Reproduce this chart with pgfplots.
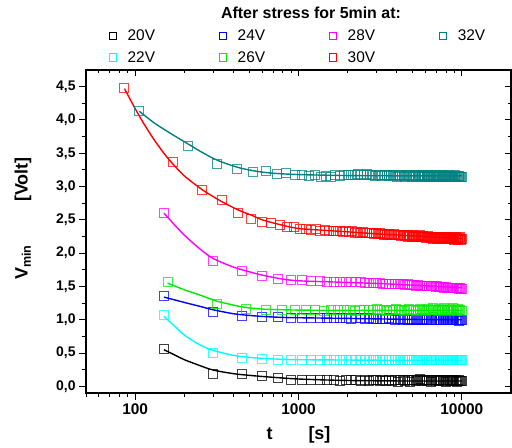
\documentclass[border=0pt]{standalone}
\usepackage{fontspec}
\setmainfont{Liberation Sans}
\usepackage{pgfplots}
\usepackage{pgfplotstable}
\pgfplotsset{compat=1.18}

\definecolor{c20}{RGB}{0,0,0}
\definecolor{c22}{RGB}{0,255,255}
\definecolor{c24}{RGB}{0,0,255}
\definecolor{c26}{RGB}{0,235,0}
\definecolor{c28}{RGB}{255,0,255}
\definecolor{c30}{RGB}{255,0,0}
\definecolor{c32}{RGB}{0,128,128}

% 20V, 22V, 24V, 28V: one reading every 150 s
\pgfplotstableread{
t v20 v22 v24 v28
150 0.56 1.07 1.36 2.61
300 0.19 0.50 1.12 1.89
450 0.18 0.43 1.06 1.74
600 0.15 0.41 1.04 1.66
750 0.12 0.40 1.04 1.62
900 0.10 0.40 1.03 1.60
1050 0.10 0.40 1.03 1.59
1200 0.09 0.40 1.02 1.58
1350 0.09 0.39 1.02 1.58
1500 0.10 0.40 1.02 1.57
1650 0.09 0.40 1.03 1.57
1800 0.08 0.40 1.02 1.57
1950 0.09 0.39 1.02 1.56
2100 0.09 0.40 1.01 1.56
2250 0.10 0.40 1.02 1.56
2400 0.08 0.39 1.02 1.56
2550 0.09 0.40 1.01 1.55
2700 0.08 0.40 1.02 1.55
2850 0.09 0.39 1.01 1.55
3000 0.09 0.40 1.01 1.55
3150 0.08 0.39 1.01 1.55
3300 0.09 0.40 1.01 1.54
3450 0.08 0.39 1.01 1.54
3600 0.10 0.40 1.02 1.54
3750 0.08 0.39 1.01 1.54
3900 0.09 0.39 1.00 1.53
4050 0.07 0.40 1.01 1.53
4200 0.09 0.39 1.01 1.53
4350 0.10 0.39 1.00 1.53
4500 0.08 0.40 1.01 1.52
4650 0.09 0.39 1.00 1.53
4800 0.07 0.39 1.01 1.52
4950 0.09 0.40 1.00 1.52
5100 0.10 0.39 1.00 1.52
5250 0.08 0.39 1.01 1.51
5400 0.09 0.40 1.00 1.52
5550 0.11 0.39 1.00 1.51
5700 0.08 0.39 1.00 1.51
5850 0.09 0.40 1.01 1.51
6000 0.10 0.39 1.00 1.50
6150 0.08 0.39 0.99 1.51
6300 0.09 0.39 1.00 1.50
6450 0.07 0.40 1.00 1.50
6600 0.09 0.39 0.99 1.50
6750 0.10 0.39 1.00 1.50
6900 0.08 0.39 0.99 1.49
7050 0.09 0.39 1.00 1.50
7200 0.08 0.40 0.99 1.49
7350 0.10 0.39 1.00 1.49
7500 0.09 0.39 0.99 1.49
7650 0.08 0.39 0.99 1.49
7800 0.09 0.39 1.00 1.48
7950 0.07 0.40 0.99 1.49
8100 0.09 0.39 0.99 1.48
8250 0.10 0.39 1.00 1.48
8400 0.08 0.39 0.99 1.48
8550 0.09 0.39 0.99 1.48
8700 0.08 0.40 0.99 1.47
8850 0.09 0.39 1.00 1.48
9000 0.08 0.39 0.99 1.47
9150 0.09 0.39 0.99 1.47
9300 0.07 0.39 0.99 1.47
9450 0.08 0.40 0.99 1.47
9600 0.09 0.39 0.98 1.46
9750 0.08 0.39 0.99 1.47
9900 0.08 0.39 0.99 1.46
10050 0.08 0.39 0.99 1.46
}\datastep

% 26V: every 158 s
\pgfplotstableread{
t v
158 1.56
316 1.24
474 1.16
632 1.14
790 1.15
948 1.14
1106 1.15
1264 1.14
1422 1.13
1580 1.15
1738 1.14
1896 1.15
2054 1.14
2212 1.13
2370 1.15
2528 1.14
2686 1.15
2844 1.14
3002 1.16
3160 1.14
3318 1.15
3476 1.13
3634 1.15
3792 1.14
3950 1.16
4108 1.14
4266 1.15
4424 1.13
4582 1.15
4740 1.16
4898 1.14
5056 1.15
5214 1.13
5372 1.15
5530 1.16
5688 1.14
5846 1.15
6004 1.13
6162 1.16
6320 1.14
6478 1.15
6636 1.17
6794 1.14
6952 1.15
7110 1.13
7268 1.16
7426 1.14
7584 1.15
7742 1.17
7900 1.14
8058 1.15
8216 1.13
8374 1.16
8532 1.14
8690 1.15
8848 1.17
9006 1.14
9164 1.15
9322 1.13
9480 1.16
9638 1.14
9796 1.15
9954 1.13
}\datagreen

% 30V: every 85 s
\pgfplotstableread{
t v
85 4.48
170 3.37
255 2.95
340 2.80
425 2.60
510 2.51
595 2.47
680 2.45
765 2.42
850 2.40
935 2.39
1020 2.37
1105 2.37
1190 2.35
1275 2.36
1360 2.34
1445 2.35
1530 2.34
1615 2.33
1700 2.34
1785 2.33
1870 2.32
1955 2.33
2040 2.32
2125 2.33
2210 2.31
2295 2.32
2380 2.31
2465 2.32
2550 2.30
2635 2.31
2720 2.30
2805 2.31
2890 2.29
2975 2.30
3060 2.29
3145 2.30
3230 2.29
3315 2.28
3400 2.29
3485 2.28
3570 2.29
3655 2.27
3740 2.28
3825 2.29
3910 2.27
3995 2.28
4080 2.27
4165 2.28
4250 2.26
4335 2.27
4420 2.28
4505 2.26
4590 2.27
4675 2.25
4760 2.27
4845 2.26
4930 2.25
5015 2.27
5100 2.25
5185 2.26
5270 2.24
5355 2.26
5440 2.25
5525 2.27
5610 2.24
5695 2.25
5780 2.26
5865 2.24
5950 2.25
6035 2.23
6120 2.25
6205 2.26
6290 2.24
6375 2.23
6460 2.25
6545 2.24
6630 2.22
6715 2.25
6800 2.23
6885 2.24
6970 2.25
7055 2.22
7140 2.24
7225 2.23
7310 2.25
7395 2.22
7480 2.24
7565 2.23
7650 2.21
7735 2.24
7820 2.23
7905 2.22
7990 2.24
8075 2.21
8160 2.23
8245 2.24
8330 2.22
8415 2.21
8500 2.23
8585 2.22
8670 2.24
8755 2.21
8840 2.22
8925 2.23
9010 2.20
9095 2.22
9180 2.24
9265 2.21
9350 2.23
9435 2.22
9520 2.20
9605 2.23
9690 2.21
9775 2.24
9860 2.22
9945 2.20
10030 2.21
}\datared

% 32V: every 105 s
\pgfplotstableread{
t v
105 4.13
210 3.61
315 3.34
420 3.27
525 3.22
630 3.24
735 3.19
840 3.20
945 3.17
1050 3.18
1155 3.16
1260 3.17
1365 3.15
1470 3.16
1575 3.15
1680 3.17
1785 3.16
1890 3.17
1995 3.18
2100 3.17
2205 3.18
2310 3.19
2415 3.17
2520 3.18
2625 3.19
2730 3.17
2835 3.18
2940 3.16
3045 3.18
3150 3.17
3255 3.16
3360 3.18
3465 3.17
3570 3.16
3675 3.18
3780 3.16
3885 3.17
3990 3.15
4095 3.17
4200 3.16
4305 3.18
4410 3.16
4515 3.15
4620 3.17
4725 3.16
4830 3.18
4935 3.15
5040 3.16
5145 3.17
5250 3.15
5355 3.16
5460 3.18
5565 3.16
5670 3.15
5775 3.17
5880 3.16
5985 3.14
6090 3.16
6195 3.17
6300 3.15
6405 3.16
6510 3.18
6615 3.15
6720 3.16
6825 3.17
6930 3.15
7035 3.16
7140 3.14
7245 3.16
7350 3.17
7455 3.15
7560 3.16
7665 3.15
7770 3.17
7875 3.16
7980 3.14
8085 3.16
8190 3.15
8295 3.17
8400 3.16
8505 3.15
8610 3.16
8715 3.14
8820 3.16
8925 3.15
9030 3.17
9135 3.15
9240 3.16
9345 3.14
9450 3.16
9555 3.15
9660 3.16
9765 3.15
9870 3.14
9975 3.15
}\datateal

\pgfplotsset{
  pts/.style={only marks, mark=square, mark size=4.5bp, color=#1,
    mark options={line width=0.9bp, draw opacity=0.75}, forget plot},
  fit/.style={smooth, color=#1, line width=1.4bp, forget plot},
  leg/.style={only marks, mark=square, mark size=3.6bp, color=#1,
    mark options={line width=0.9bp}},
}

\begin{document}
\begin{tikzpicture}
\begin{axis}[
  name=ax, at={(0,0)}, anchor=south west,
  scale only axis, width=425bp, height=323bp,
  xmode=log, xmin=50, xmax=20000, ymin=-0.1, ymax=4.75,
  xtick={100,1000,10000}, xticklabels={100,1000,10000},
  minor xtick={50,60,70,80,90,200,300,400,500,600,700,800,900,2000,3000,4000,5000,6000,7000,8000,9000},
  ytick={0,0.5,1,1.5,2,2.5,3,3.5,4,4.5}, minor y tick num=1,
  xtick pos=left, ytick pos=left, tick align=outside,
  major tick length=7bp, minor tick length=4bp,
  tick style={black, line width=1bp},
  axis line style={line width=1.2bp},
  /pgf/number format/assume math mode=true,
  y tick label style={font=\bfseries\fontsize{14}{16}\selectfont,
    /pgf/number format/fixed, /pgf/number format/fixed zerofill,
    /pgf/number format/precision=1, /pgf/number format/use comma},
  x tick label style={font=\bfseries\fontsize{15.5}{18}\selectfont},
  xlabel={t\hspace{36bp}[s]},
  ylabel={V\textsubscript{min}\hspace{43bp}[Volt]},
  label style={font=\bfseries\fontsize{18}{21}\selectfont},
  xlabel style={at={(axis description cs:0.5,-0.13)}, anchor=center},
  ylabel style={at={(axis description cs:-0.148,0.54)}, anchor=center},
  legend columns=4,
  % image cell is about 60bp wide, with the square at its right end
  legend image code/.code={\path[draw=none, fill=none] (-53bp,0bp) -- (4bp,0bp);
    \draw[mark repeat=1,#1] plot coordinates {(4bp,0bp)};},
  legend style={draw=none, fill=none, inner sep=0pt,
    at={(rel axis cs:-0.071,1.013)}, anchor=south west,
    font=\fontsize{15.5}{19}\selectfont, row sep=5bp, column sep=9bp},
]
\addplot[pts=c20] table[x=t, y=v20] {\datastep};
\addplot[fit=c20] coordinates {(150,0.55)(175,0.47)(200,0.40)(250,0.31)(300,0.245)(400,0.19)(500,0.165)(600,0.148)(800,0.125)(1000,0.11)(1500,0.095)(2000,0.088)(3000,0.083)(5000,0.08)(10000,0.08)};
\addplot[pts=c22] table[x=t, y=v22] {\datastep};
\addplot[fit=c22] coordinates {(150,1.05)(175,0.90)(200,0.77)(250,0.62)(300,0.54)(400,0.465)(500,0.435)(600,0.42)(800,0.405)(1000,0.40)(2000,0.395)(5000,0.39)(10000,0.39)};
\addplot[pts=c24] table[x=t, y=v24] {\datastep};
\addplot[fit=c24] coordinates {(150,1.34)(200,1.26)(250,1.20)(300,1.15)(400,1.09)(500,1.065)(600,1.05)(800,1.035)(1000,1.03)(2000,1.02)(5000,1.005)(10000,1.0)};
\addplot[pts=c26] table[x=t, y=v] {\datagreen};
\addplot[fit=c26] coordinates {(158,1.55)(200,1.45)(250,1.37)(316,1.28)(400,1.22)(474,1.185)(600,1.16)(800,1.15)(1000,1.145)(2000,1.14)(5000,1.14)(10000,1.14)};
\addplot[pts=c28] table[x=t, y=v28] {\datastep};
\addplot[fit=c28] coordinates {(150,2.60)(175,2.42)(200,2.27)(250,2.06)(300,1.92)(400,1.79)(500,1.72)(600,1.67)(800,1.61)(1000,1.585)(1500,1.57)(2000,1.56)(3000,1.545)(5000,1.52)(7000,1.50)(10000,1.48)};
\addplot[pts=c30] table[x=t, y=v] {\datared};
\addplot[fit=c30] coordinates {(86,4.47)(100,4.17)(112,3.96)(130,3.71)(150,3.50)(170,3.34)(200,3.16)(255,2.96)(300,2.85)(341,2.77)(426,2.65)(527,2.56)(600,2.50)(766,2.43)(1000,2.37)(1500,2.34)(2000,2.32)(3000,2.29)(5000,2.26)(7000,2.24)(10000,2.22)};
\addplot[pts=c32] table[x=t, y=v] {\datateal};
\addplot[fit=c32] coordinates {(106,4.13)(130,3.96)(150,3.86)(180,3.74)(209,3.645)(250,3.53)(315,3.40)(422,3.29)(550,3.23)(700,3.20)(1000,3.18)(2000,3.165)(5000,3.16)(10000,3.16)};
% legend, row by row as in the original
\addlegendimage{leg=c20}\addlegendentry{20V}
\addlegendimage{leg=c24}\addlegendentry{24V}
\addlegendimage{leg=c28}\addlegendentry{28V}
\addlegendimage{leg=c32}\addlegendentry{32V}
\addlegendimage{leg=c22}\addlegendentry{22V}
\addlegendimage{leg=c26}\addlegendentry{26V}
\addlegendimage{leg=c30}\addlegendentry{30V}
\end{axis}
\node[font=\bfseries\fontsize{16}{19}\selectfont] at (225bp,380bp) {After stress for 5min at:};
% mirrored ticks on top and right, pointing inwards
\begin{axis}[
  at={(0,0)}, anchor=south west,
  scale only axis, width=425bp, height=323bp,
  xmode=log, xmin=50, xmax=20000, ymin=-0.1, ymax=4.75,
  axis x line*=top, axis y line*=right, axis line style={draw=none},
  xtick={100,1000,10000}, xticklabels={},
  minor xtick={50,60,70,80,90,200,300,400,500,600,700,800,900,2000,3000,4000,5000,6000,7000,8000,9000},
  ytick={0,0.5,1,1.5,2,2.5,3,3.5,4,4.5}, minor y tick num=1, yticklabels={},
  tick align=inside, major tick length=6bp, minor tick length=3.5bp,
  tick style={black, line width=1bp},
]
\addplot[draw=none, forget plot] coordinates {(100,0)};
\end{axis}
\pgfresetboundingbox
\path (-86bp,-55bp) rectangle (426bp,393bp);
\end{tikzpicture}
\end{document}
